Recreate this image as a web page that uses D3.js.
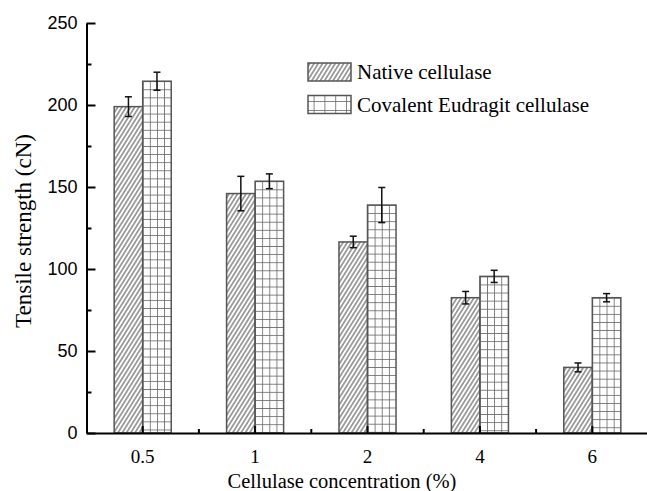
<!DOCTYPE html>
<html>
<head>
<meta charset="utf-8">
<script src="https://d3js.org/d3.v7.min.js"></script>
<style>
  body { margin: 0; background: #fff; }
</style>
</head>
<body>
<div id="chart"></div>
<script>
// data
var concentrations = ["0.5", "1", "2", "4", "6"];
var seriesNames = ["Native cellulase", "Covalent Eudragit cellulase"];
var nativeVals = [199, 146, 116.5, 82.5, 40];
var nativeErr = [6, 10.5, 3.5, 3.8, 2.7];
var covalentVals = [214.5, 153.5, 139, 95.5, 82.5];
var covalentErr = [5.5, 4.5, 10.7, 3.7, 2.5];
var yMajor = [0, 50, 100, 150, 200, 250];
var yMinor = [25, 75, 125, 175, 225];

var W = 647, H = 491;
var plotLeft = 86.5, plotBottom = 433, plotTop = 23;

var svg = d3.select("#chart").append("svg")
    .attr("width", W)
    .attr("height", H);

var x = d3.scaleBand()
    .domain(concentrations)
    .range([plotLeft, plotLeft + 5 * 112.4])
    .paddingInner(0).paddingOuter(0);

var xSub = d3.scaleBand()
    .domain(["native", "covalent"])
    .range([0, x.bandwidth()])
    .paddingInner(0).paddingOuter(0.97);

var y = d3.scaleLinear().domain([0, 250]).range([plotBottom, plotTop]);

var defs = svg.append("defs");

// diagonal hatch
var hatch = defs.append("pattern")
    .attr("id", "hatch")
    .attr("patternUnits", "userSpaceOnUse")
    .attr("width", 3.6).attr("height", 10)
    .attr("patternTransform", "rotate(32)");
hatch.append("rect").attr("width", 3.6).attr("height", 10).attr("fill", "#fff");
hatch.append("line")
    .attr("x1", 1.8).attr("y1", 0).attr("x2", 1.8).attr("y2", 10)
    .attr("stroke", "#4a4a4a").attr("stroke-width", 1);

// table of rows for the bars
var rows = [];
concentrations.forEach(function (c, i) {
  rows.push({cat: c, key: "native", v: nativeVals[i], e: nativeErr[i], idx: i});
  rows.push({cat: c, key: "covalent", v: covalentVals[i], e: covalentErr[i], idx: i});
});

// one grid pattern per covalent bar so the cells line up with the bar edges
function gridPattern(id, x0, y0, cw, ch) {
  var p = defs.append("pattern")
      .attr("id", id)
      .attr("patternUnits", "userSpaceOnUse")
      .attr("x", x0).attr("y", y0)
      .attr("width", cw).attr("height", ch);
  p.append("rect").attr("width", cw).attr("height", ch).attr("fill", "#fff");
  p.append("line").attr("x1", 0).attr("y1", 0).attr("x2", cw).attr("y2", 0)
      .attr("stroke", "#666").attr("stroke-width", 1.6);
  p.append("line").attr("x1", 0).attr("y1", 0).attr("x2", 0).attr("y2", ch)
      .attr("stroke", "#666").attr("stroke-width", 1.6);
}

rows.forEach(function (d) {
  if (d.key == "covalent") {
    var bx = x(d.cat) + xSub("covalent");
    gridPattern("grid" + d.idx, bx, y(d.v), xSub.bandwidth() / 4, 8.1);
  }
});

var g = svg.append("g");

g.selectAll(".bar")
    .data(rows)
    .enter().append("rect")
    .attr("class", "bar")
    .attr("x", function (d) { return x(d.cat) + xSub(d.key); })
    .attr("y", function (d) { return y(d.v); })
    .attr("width", xSub.bandwidth())
    .attr("height", function (d) { return y(0) - y(d.v); })
    .attr("fill", function (d) { return d.key == "native" ? "url(#hatch)" : "url(#grid" + d.idx + ")"; })
    .attr("stroke", "#555")
    .attr("stroke-width", 1.5);

// error bars
var err = g.selectAll(".err")
    .data(rows)
    .enter().append("g")
    .attr("class", "err")
    .attr("transform", function (d) {
      return "translate(" + (x(d.cat) + xSub(d.key) + xSub.bandwidth() / 2) + ",0)";
    });
err.append("line")
    .attr("x1", 0).attr("x2", 0)
    .attr("y1", function (d) { return y(d.v + d.e); })
    .attr("y2", function (d) { return y(d.v - d.e); })
    .attr("stroke", "#111").attr("stroke-width", 1.5);
err.append("line")
    .attr("x1", -3.5).attr("x2", 3.5)
    .attr("y1", function (d) { return y(d.v + d.e); })
    .attr("y2", function (d) { return y(d.v + d.e); })
    .attr("stroke", "#111").attr("stroke-width", 1.5);
err.append("line")
    .attr("x1", -3.5).attr("x2", 3.5)
    .attr("y1", function (d) { return y(d.v - d.e); })
    .attr("y2", function (d) { return y(d.v - d.e); })
    .attr("stroke", "#111").attr("stroke-width", 1.5);

// y axis
var yAxis = svg.append("g")
    .attr("transform", "translate(" + plotLeft + ",0)")
    .call(d3.axisLeft(y).tickValues(yMajor).tickSizeInner(-9).tickSizeOuter(0).tickPadding(9));
yAxis.select(".domain").attr("stroke-width", 2);
yAxis.selectAll(".tick line").attr("stroke-width", 2);
yAxis.selectAll("text")
    .style("font-family", "'Liberation Sans', Arial, sans-serif")
    .style("font-size", "18px")
    .attr("fill", "#000");

var yMinorAxis = svg.append("g")
    .attr("transform", "translate(" + plotLeft + ",0)")
    .call(d3.axisLeft(y).tickValues(yMinor).tickSizeInner(-5).tickSizeOuter(0).tickFormat(""));
yMinorAxis.select(".domain").remove();
yMinorAxis.selectAll(".tick line").attr("stroke-width", 2);

// x axis
var xAxis = svg.append("g")
    .attr("transform", "translate(0," + plotBottom + ")")
    .call(d3.axisBottom(x).tickSizeInner(-7).tickSizeOuter(0).tickPadding(17));
xAxis.select(".domain").attr("stroke-width", 2);
xAxis.selectAll(".tick line").attr("stroke-width", 2);
xAxis.selectAll("text")
    .style("font-family", "'Liberation Serif', 'Times New Roman', serif")
    .style("font-size", "19px")
    .attr("fill", "#000");

// minor ticks between categories
svg.append("g").selectAll("line")
    .data(concentrations.slice(1))
    .enter().append("line")
    .attr("x1", function (d) { return x(d); })
    .attr("x2", function (d) { return x(d); })
    .attr("y1", plotBottom).attr("y2", plotBottom - 4)
    .attr("stroke", "#000").attr("stroke-width", 2);

// axis titles
svg.append("text")
    .attr("x", 342)
    .attr("y", 488)
    .attr("text-anchor", "middle")
    .attr("fill", "#000")
    .style("font-family", "'Liberation Serif', 'Times New Roman', serif")
    .style("font-size", "20.5px")
    .text("Cellulase concentration (%)");

svg.append("text")
    .attr("transform", "translate(31,231) rotate(-90)")
    .attr("text-anchor", "middle")
    .attr("fill", "#000")
    .style("font-family", "'Liberation Serif', 'Times New Roman', serif")
    .style("font-size", "23px")
    .text("Tensile strength (cN)");

// legend
var legend = svg.append("g").attr("transform", "translate(308,63)");
var fills = ["url(#hatch)", "url(#legendgrid)"];
gridPattern("legendgrid", 308, 95.5, 10.8, 9);
var li = legend.selectAll(".li")
    .data(seriesNames)
    .enter().append("g")
    .attr("transform", function (d, i) { return "translate(0," + (i * 32.5) + ")"; });
li.append("rect")
    .attr("width", 43).attr("height", 18)
    .attr("fill", function (d, i) { return fills[i]; })
    .attr("stroke", "#555").attr("stroke-width", 1.5);
li.append("text")
    .attr("x", 49).attr("y", 16)
    .attr("fill", "#000")
    .style("font-family", "'Liberation Serif', 'Times New Roman', serif")
    .style("font-size", "21px")
    .text(function (d) { return d; });
</script>
</body>
</html>
